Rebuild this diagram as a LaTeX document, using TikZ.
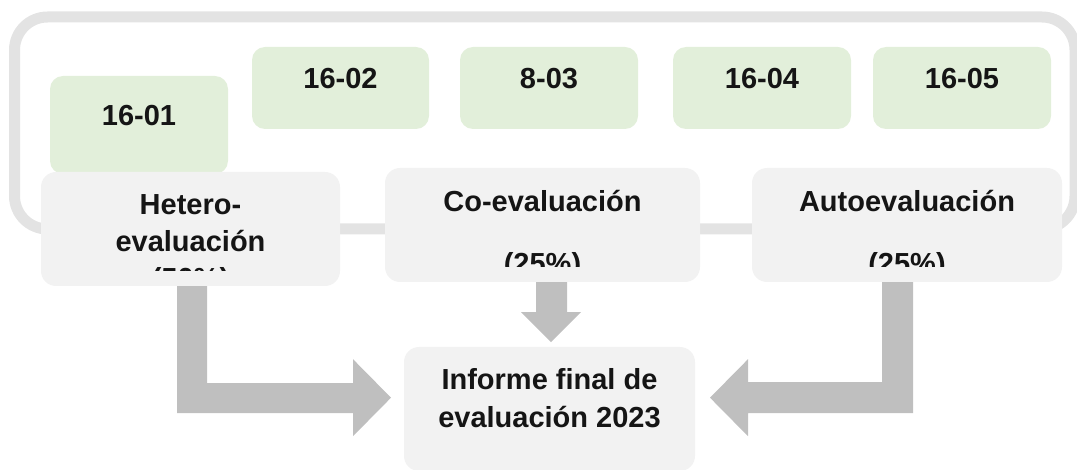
\documentclass[tikz,border=0pt]{standalone}
\usepackage{fontspec}
\setmainfont{Liberation Sans}
\definecolor{framegray}{HTML}{E3E3E3}
\definecolor{boxgray}{HTML}{F2F2F2}
\definecolor{boxgreen}{HTML}{E2EFDA}
\definecolor{arrowgray}{HTML}{BFBFBF}
\definecolor{txt}{HTML}{151515}
\tikzset{
  framebox/.style={draw=framegray, line width=11pt, rounded corners=33pt, rectangle, inner sep=0pt},
  greenbox/.style={fill=boxgreen, rounded corners=13pt, rectangle, inner sep=0pt},
  graybox/.style={fill=boxgray, rounded corners=15pt, rectangle, inner sep=0pt},
  lbl/.style={anchor=base, inner sep=0pt, text=txt, font=\bfseries\fontsize{29}{37}\selectfont},
  blockarrow/.style={fill=arrowgray}
}
\begin{document}
\begin{tikzpicture}[x=1pt, y=-1pt]
\useasboundingbox (0,0) rectangle (1077,470);
\clip (0,0) rectangle (1077,470);
% outer frame
\node[framebox, minimum width=1060.5pt, minimum height=212pt] (frame) at (544.75,123) {};
% green date boxes
\node[greenbox, minimum width=178pt, minimum height=98pt] (g1) at (139,125) {};
\node[greenbox, minimum width=177pt, minimum height=82pt] (g2) at (340.5,88) {};
\node[greenbox, minimum width=178pt, minimum height=82pt] (g3) at (549,88) {};
\node[greenbox, minimum width=178pt, minimum height=82pt] (g4) at (762,88) {};
\node[greenbox, minimum width=178pt, minimum height=82pt] (g5) at (962,88) {};
\node[lbl] (g1t) at (139,126) {16-01};
\node[lbl] (g2t) at (340.5,89) {16-02};
\node[lbl] (g3t) at (549,89) {8-03};
\node[lbl] (g4t) at (762,89) {16-04};
\node[lbl] (g5t) at (962,89) {16-05};
% gray boxes
\node[graybox, minimum width=299pt, minimum height=114pt] (het) at (190.5,229) {};
\node[graybox, minimum width=315pt, minimum height=114pt] (co) at (542.5,225) {};
\node[graybox, minimum width=310pt, minimum height=114pt] (aut) at (907,225) {};
\node[graybox, minimum width=291pt, minimum height=124pt] (fin) at (549.5,409) {};
% texts in gray boxes (clipped)
\begin{scope}
  \clip (41,172) rectangle (340,271);
  \node[lbl] (het1) at (190.5,215) {Hetero-};
  \node[lbl] (het2) at (190.5,252) {evaluación};
  \node[lbl] (het3) at (190.5,289) {(50\%)};
\end{scope}
\begin{scope}
  \clip (385,168) rectangle (700,267);
  \node[lbl] (co1) at (542.5,212) {Co-evaluación};
  \node[lbl] (co2) at (542.5,274) {(25\%)};
\end{scope}
\begin{scope}
  \clip (752,168) rectangle (1062,267);
  \node[lbl] (aut1) at (907,212) {Autoevaluación};
  \node[lbl] (aut2) at (907,274) {(25\%)};
\end{scope}
\node[lbl] (fin1) at (549.5,390) {Informe final de};
\node[lbl] (fin2) at (549.5,428) {evaluación 2023};
% block arrows
\fill[blockarrow] ([xshift=-13.5pt]het.south) -- ++(30,0) -- ++(0,97) -- ++(146,0) -- ++(0,-24)
  -- ++(38,38.5) -- ++(-38,38.5) -- ++(0,-23) -- ++(-176,0) -- cycle;
\fill[blockarrow] ([xshift=-6.5pt]co.south) -- ++(31,0) -- ++(0,30) -- ++(14,0) -- ++(-30,30)
  -- ++(-30,-30) -- ++(15,0) -- cycle;
\fill[blockarrow] ([xshift=-25pt]aut.south) -- ++(31,0) -- ++(0,131) -- ++(-165,0) -- ++(0,23)
  -- ++(-38,-38.5) -- ++(38,-38.5) -- ++(0,23) -- ++(134,0) -- cycle;
\end{tikzpicture}
\end{document}
